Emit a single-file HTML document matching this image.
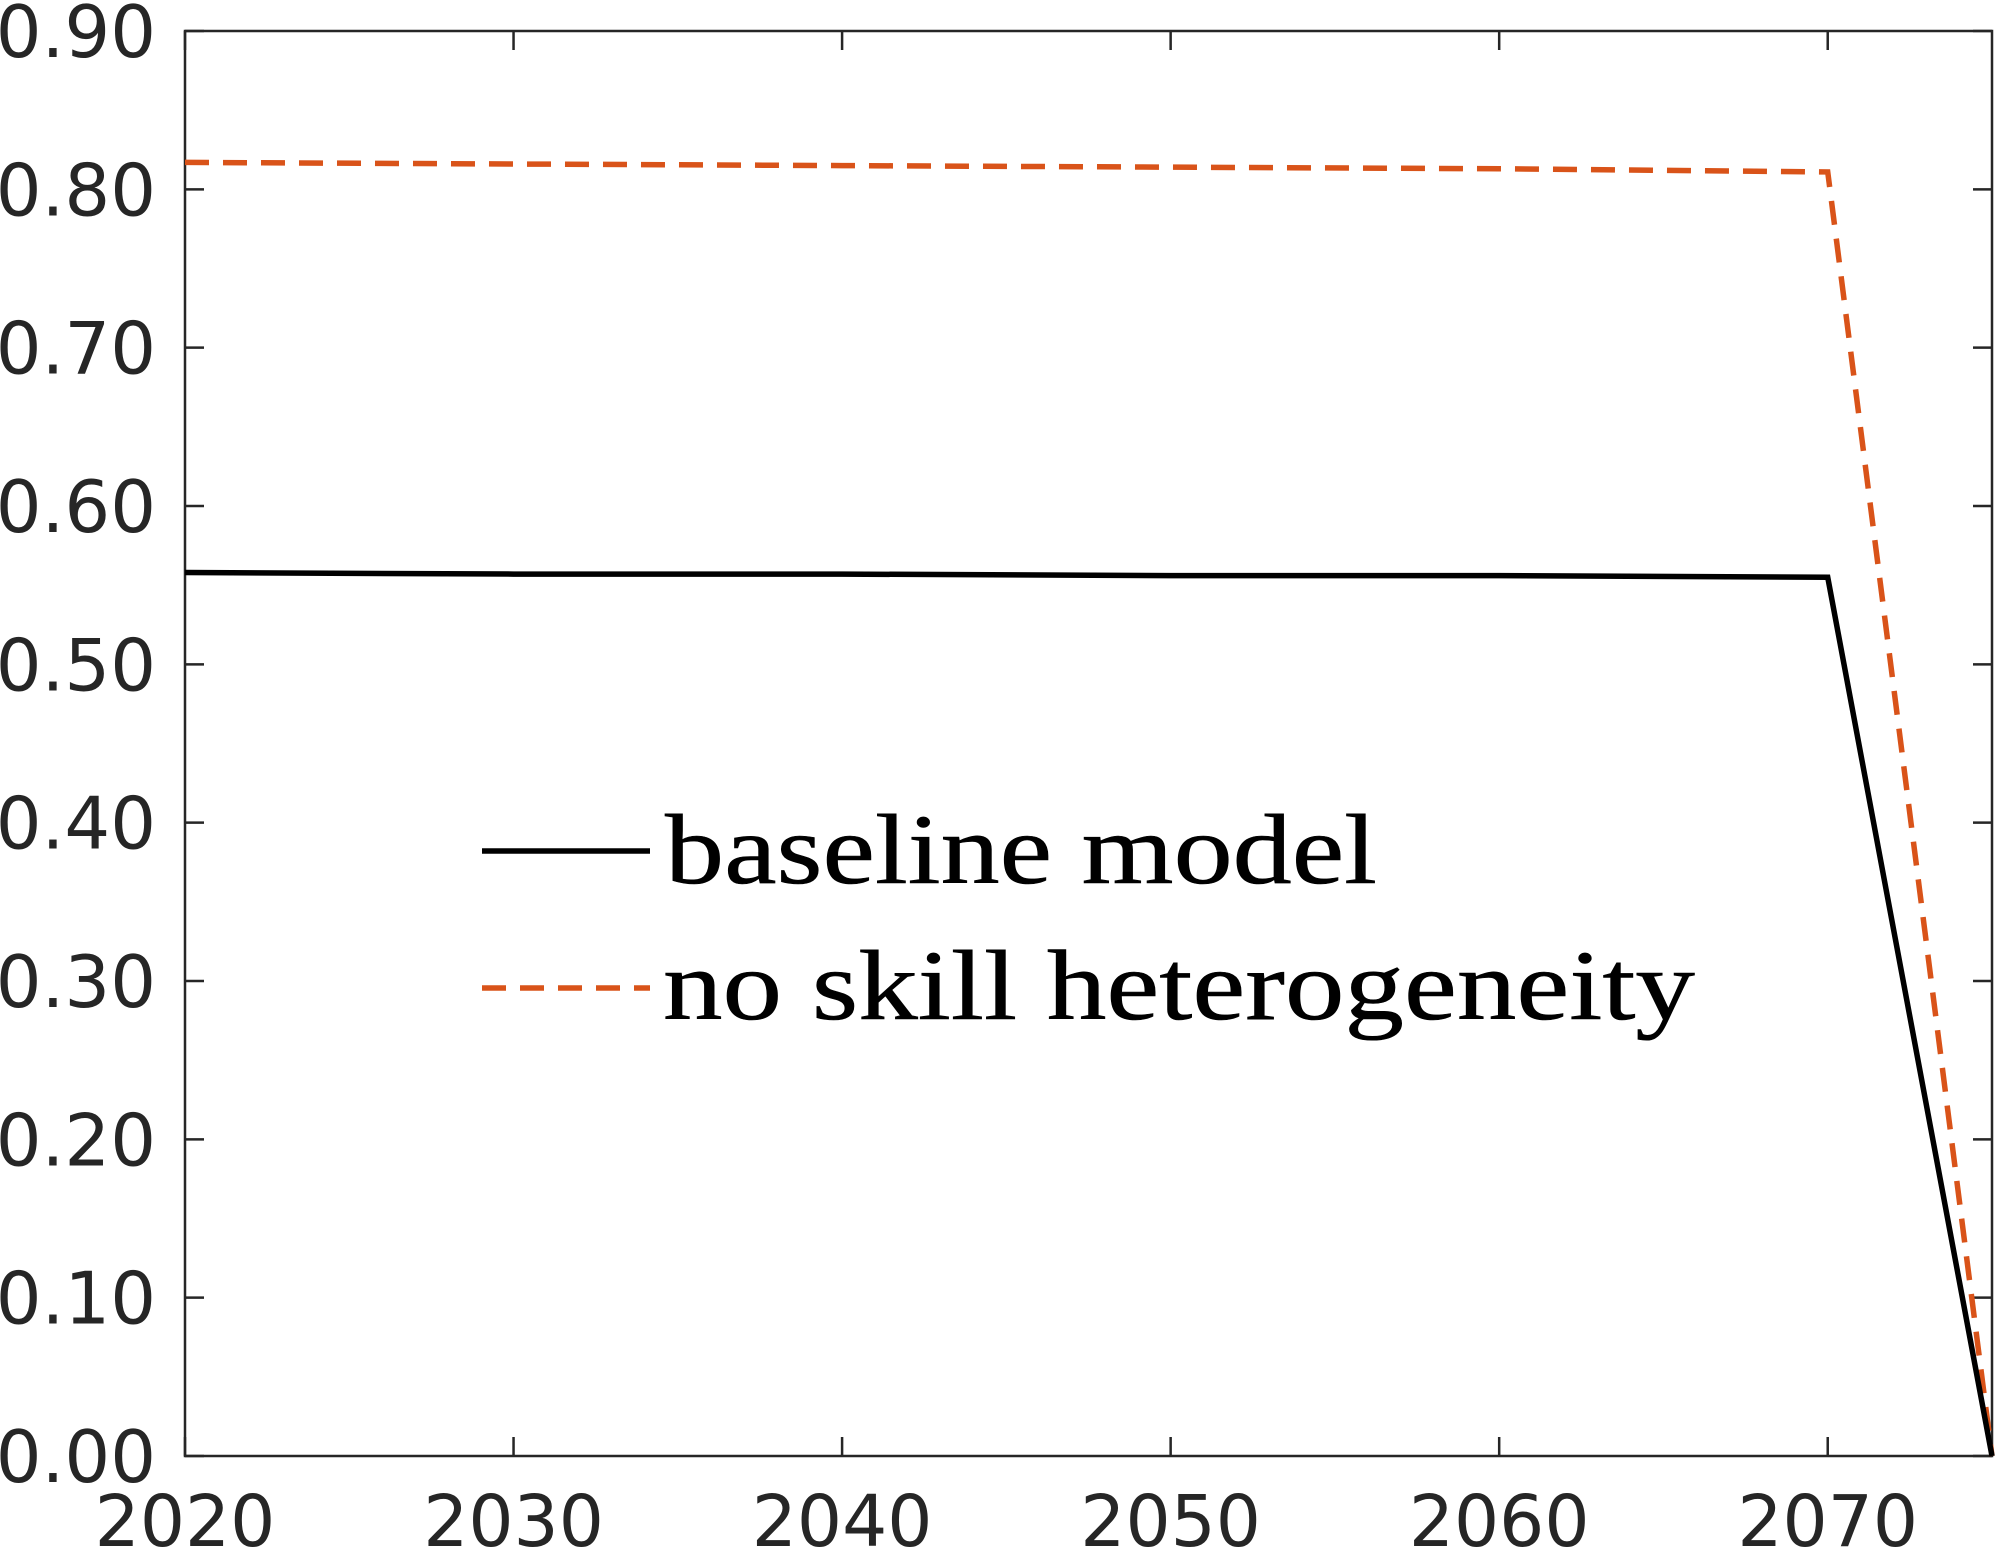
<!DOCTYPE html>
<html>
<head>
<meta charset="utf-8">
<style>
html,body{margin:0;padding:0;background:#fff;}
svg{display:block;}
</style>
</head>
<body>
<svg id="chart" width="1998" height="1554" viewBox="0 0 1998 1554" xmlns="http://www.w3.org/2000/svg">
  <g id="axes"></g>
  <g id="series"></g>
  <g id="legend">
    <line x1="482" y1="851" x2="650" y2="851" stroke="#000" stroke-width="5.5"/>
    <text x="665" y="883" font-family="'Liberation Serif', serif" font-size="100" textLength="712" lengthAdjust="spacingAndGlyphs" fill="#000" stroke="#000" stroke-width="0.6">baseline model</text>
    <line x1="482" y1="988" x2="650" y2="988" stroke="#D95319" stroke-width="5.5" stroke-dasharray="24,14"/>
    <text x="663" y="1019" font-family="'Liberation Serif', serif" font-size="100" textLength="1032" lengthAdjust="spacingAndGlyphs" fill="#000" stroke="#000" stroke-width="0.6">no skill heterogeneity</text>
  </g>
</svg>
<script>
const years = [2020, 2030, 2040, 2050, 2060, 2070, 2075];
const baseline = [0.558, 0.557, 0.557, 0.556, 0.556, 0.555, 0.0];
const noSkill = [0.817, 0.816, 0.815, 0.814, 0.813, 0.811, 0.0];
const xTicks = [2020, 2030, 2040, 2050, 2060, 2070];
const yTicks = [0, 0.1, 0.2, 0.3, 0.4, 0.5, 0.6, 0.7, 0.8, 0.9];

const L = 185, R = 1992, T = 31, B = 1456;
const xMin = 2020, xMax = 2075, yMin = 0, yMax = 0.9;
const xs = v => L + (v - xMin) / (xMax - xMin) * (R - L);
const ys = v => B - (v - yMin) / (yMax - yMin) * (B - T);
const NS = "http://www.w3.org/2000/svg";
const axes = document.getElementById('axes');
const series = document.getElementById('series');

function mk(tag, attrs, parent) {
  const e = document.createElementNS(NS, tag);
  for (const k in attrs) e.setAttribute(k, attrs[k]);
  parent.appendChild(e);
  return e;
}

const box = mk('rect', {x: L, y: T, width: R - L, height: B - T, fill: 'none', stroke: '#262626', 'stroke-width': 2.5}, axes);



yTicks.forEach(v => {
  const y = ys(v);
  const t1 = mk('line', {x1: L, y1: y, x2: L + 19, y2: y, stroke: '#262626', 'stroke-width': 2.5}, axes);
  
  
  const t2 = mk('line', {x1: R, y1: y, x2: R - 19, y2: y, stroke: '#262626', 'stroke-width': 2.5}, axes);
  
  
  const lbl = mk('text', {x: 156, y: y + 26, 'text-anchor': 'end', 'font-family': "'DejaVu Sans', sans-serif", 'font-size': 72, fill: '#262626'}, axes);
  
  
  lbl.textContent = v.toFixed(2);
});

xTicks.forEach(v => {
  const x = xs(v);
  const t1 = mk('line', {x1: x, y1: B, x2: x, y2: B - 19, stroke: '#262626', 'stroke-width': 2.5}, axes);
  
  
  const t2 = mk('line', {x1: x, y1: T, x2: x, y2: T + 19, stroke: '#262626', 'stroke-width': 2.5}, axes);
  
  
  const lbl = mk('text', {x: x, y: 1546, 'text-anchor': 'middle', 'font-family': "'DejaVu Sans', sans-serif", 'font-size': 71, fill: '#262626'}, axes);
  
  
  lbl.textContent = String(v);
});

function pts(arr) { return years.map((yr, i) => xs(yr) + ',' + ys(arr[i])).join(' '); }

const l1 = mk('polyline', {points: pts(noSkill), fill: 'none', stroke: '#D95319', 'stroke-width': 5.5, 'stroke-dasharray': '24,14'}, series);


const l2 = mk('polyline', {points: pts(baseline), fill: 'none', stroke: '#000', 'stroke-width': 5.5}, series);


</script>
</body>
</html>
